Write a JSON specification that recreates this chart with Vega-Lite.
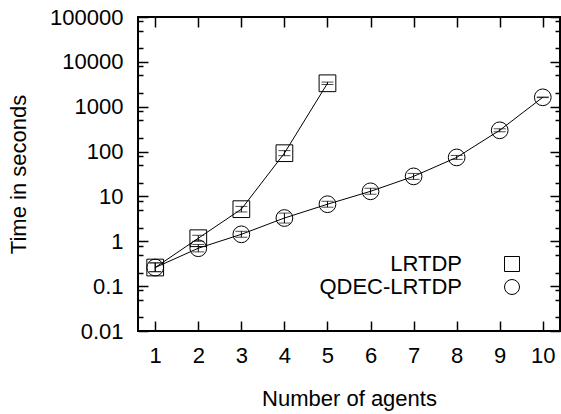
{
  "$schema": "https://vega.github.io/schema/vega-lite/v6.json",
  "width": 422,
  "height": 314,
  "autosize": {"type": "none"},
  "padding": {"left": 138, "top": 17, "right": 1, "bottom": 83},
  "background": "white",
  "config": {
    "view": {"stroke": "black", "strokeWidth": 2},
    "font": "Liberation Sans",
    "axis": {
      "grid": false,
      "domain": false,
      "tickColor": "black",
      "tickWidth": 1.5,
      "labelColor": "black",
      "labelFont": "Liberation Sans",
      "labelFontSize": 22,
      "titleFont": "Liberation Sans",
      "titleFontSize": 22,
      "titleFontWeight": "normal",
      "titleColor": "black",
      "labelFlush": false,
      "labelOverlap": false
    },
    "legend": {
      "labelFont": "Liberation Sans",
      "labelFontSize": 22,
      "labelColor": "black"
    }
  },
  "datasets": {
    "d": [
      {"series": "LRTDP", "x": 1, "t": 0.26, "lo": 0.21, "hi": 0.33},
      {"series": "LRTDP", "x": 2, "t": 1.17, "lo": 1.0, "hi": 1.36},
      {"series": "LRTDP", "x": 3, "t": 5.2, "lo": 4.5, "hi": 6.0},
      {"series": "LRTDP", "x": 4, "t": 92, "lo": 81, "hi": 105},
      {"series": "LRTDP", "x": 5, "t": 3330, "lo": 3130, "hi": 3540},
      {"series": "QDEC-LRTDP", "x": 1, "t": 0.26, "lo": 0.21, "hi": 0.33},
      {"series": "QDEC-LRTDP", "x": 2, "t": 0.7, "lo": 0.58, "hi": 0.85},
      {"series": "QDEC-LRTDP", "x": 3, "t": 1.43, "lo": 1.23, "hi": 1.67},
      {"series": "QDEC-LRTDP", "x": 4, "t": 3.3, "lo": 2.55, "hi": 4.25},
      {"series": "QDEC-LRTDP", "x": 5, "t": 6.7, "lo": 5.75, "hi": 7.8},
      {"series": "QDEC-LRTDP", "x": 6, "t": 13.0, "lo": 11.2, "hi": 15.2},
      {"series": "QDEC-LRTDP", "x": 7, "t": 28, "lo": 24, "hi": 32.6},
      {"series": "QDEC-LRTDP", "x": 8, "t": 74, "lo": 67, "hi": 82},
      {"series": "QDEC-LRTDP", "x": 9, "t": 298, "lo": 276, "hi": 322},
      {"series": "QDEC-LRTDP", "x": 10, "t": 1620, "lo": 1596, "hi": 1645}
    ]
  },
  "data": {"name": "d"},
  "layer": [
    {
      "mark": {"type": "line", "color": "black", "strokeWidth": 1},
      "encoding": {
        "x": {
          "field": "x", "type": "quantitative",
          "scale": {"domain": [0.6, 10.4], "nice": false, "zero": false},
          "axis": {"orient": "bottom", "values": [1,2,3,4,5,6,7,8,9,10], "tickSize": -10, "labelPadding": 24, "title": "Number of agents", "titlePadding": 22}
        },
        "y": {
          "field": "t", "type": "quantitative",
          "scale": {"type": "log", "domain": [0.01, 100000], "nice": false},
          "axis": {"orient": "left", "values": [0.01, 0.1, 1, 10, 100, 1000, 10000, 100000], "format": "~g", "tickSize": -10, "labelPadding": 25, "title": "Time in seconds", "titlePadding": 19}
        },
        "detail": {"field": "series"}
      }
    },
    {
      "mark": {"type": "rule", "color": "black", "strokeWidth": 1},
      "encoding": {
        "x": {"field": "x", "type": "quantitative",
          "axis": {"orient": "top", "values": [1,2,3,4,5,6,7,8,9,10], "tickSize": -10, "labels": false, "title": null}},
        "y": {"field": "lo", "type": "quantitative",
          "axis": {"orient": "right", "values": [0.01, 0.1, 1, 10, 100, 1000, 10000, 100000], "tickSize": -10, "labels": false, "title": null}},
        "y2": {"field": "hi"}
      }
    },
    {
      "transform": [{"fold": ["lo", "hi"], "as": ["k", "v"]}],
      "mark": {"type": "tick", "orient": "horizontal", "color": "black", "thickness": 1, "size": 12},
      "encoding": {
        "x": {"field": "x", "type": "quantitative", "axis": null},
        "y": {"field": "v", "type": "quantitative",
          "axis": {"orient": "left", "values": [0.02, 0.05, 0.08, 0.2, 0.5, 0.8, 2, 5, 8, 20, 50, 80, 200, 500, 800, 2000, 5000, 8000, 20000, 50000, 80000], "tickSize": -5, "labels": false, "title": null}}
      }
    },
    {
      "mark": {"type": "point", "filled": false, "stroke": "black", "strokeWidth": 1, "size": 280, "opacity": 1},
      "encoding": {
        "x": {"field": "x", "type": "quantitative", "axis": null},
        "y": {"field": "t", "type": "quantitative",
          "axis": {"orient": "right", "values": [0.02, 0.05, 0.08, 0.2, 0.5, 0.8, 2, 5, 8, 20, 50, 80, 200, 500, 800, 2000, 5000, 8000, 20000, 50000, 80000], "tickSize": -5, "labels": false, "title": null}},
        "shape": {
          "field": "series", "type": "nominal",
          "scale": {"domain": ["LRTDP", "QDEC-LRTDP"], "range": ["square", "circle"]},
          "legend": {
            "orient": "none", "legendX": 363, "legendY": 236, "title": null,
            "padding": 0, "rowPadding": 1,
            "symbolSize": 225, "symbolStrokeColor": "black", "symbolFillColor": "transparent", "symbolStrokeWidth": 1,
            "labelAlign": "right", "labelOffset": -61, "symbolOffset": 0
          }
        }
      }
    }
  ],
  "resolve": {"axis": {"x": "independent", "y": "independent"}}
}
